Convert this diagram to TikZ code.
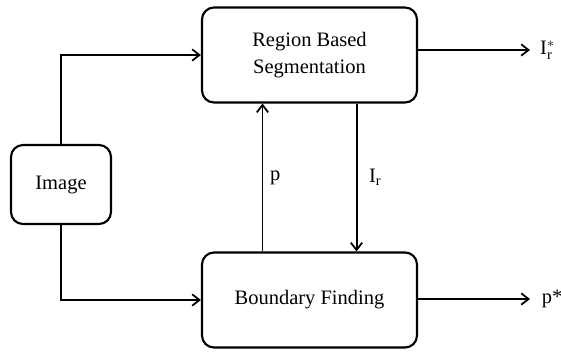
\documentclass[tikz,border=0pt]{standalone}
\usepackage{fontspec}
\setmainfont{Liberation Serif}
\usetikzlibrary{arrows.meta}
\tikzset{
  block/.style={draw, rounded corners=0.36cm, line width=1.8pt, align=center,
    font=\fontsize{17.5}{23}\selectfont},
  arr/.style={line width=1.7pt, -{Straight Barb[length=0.22cm,width=0.34cm,line width=1.5pt]}},
  lbl/.style={font=\fontsize{17.5}{23}\selectfont, inner sep=0pt}
}
\begin{document}
\begin{tikzpicture}[x=0.03cm, y=-0.03cm]
  \useasboundingbox (0,0) rectangle (561,351);
  \node[block, minimum width=3cm, minimum height=2.37cm] (img) at (61,184.5) {Image};
  \node[block, minimum width=6.45cm, minimum height=2.85cm] (seg) at (309.5,55) {Region Based\\Segmentation};
  \node[block, minimum width=6.45cm, minimum height=2.85cm] (bnd) at (309.5,300) {Boundary Finding};
  \coordinate (segout) at (530,50);
  \coordinate (bndout) at (530,299);
  \draw[arr] (img.north) |- (seg.west);
  \draw[arr] (img.south) |- (bnd.west);
  \draw[arr] (seg.east |- segout) -- (segout);
  \draw[arr] (bnd.east |- bndout) -- (bndout);
  \draw[arr] ([xshift=-1.41cm]bnd.north) -- ([xshift=-1.41cm]seg.south) node[lbl, pos=0.5, right=0.2cm] (p) {p};
  \draw[arr] ([xshift=1.41cm]seg.south) -- ([xshift=1.41cm]bnd.north) node[lbl, pos=0.5, right=0.35cm] (ir) {I\textsubscript{r}};
  \node[lbl, anchor=west] (irstar) at ([xshift=0.3cm]segout) {$\mathrm{I}_{\mathrm{r}}^{*}$};
  \node[lbl, anchor=west] (pstar) at ([xshift=0.35cm]bndout) {p*};
\end{tikzpicture}
\end{document}
